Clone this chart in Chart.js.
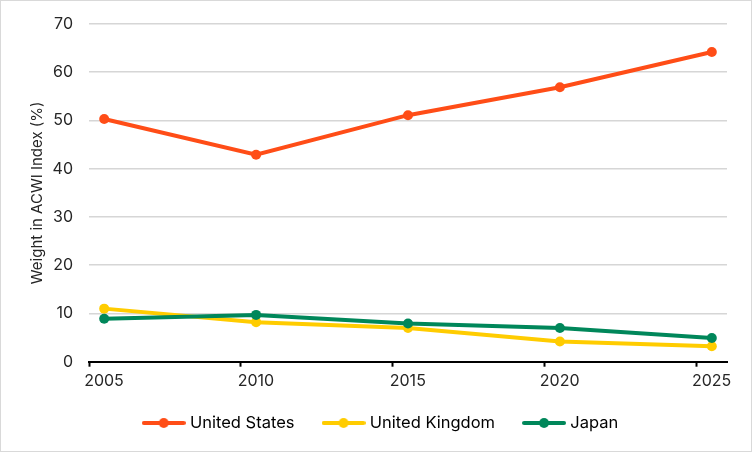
<!DOCTYPE html>
<html>
<head>
<meta charset="utf-8">
<script src="https://cdn.jsdelivr.net/npm/chart.js@4.4.1/dist/chart.umd.min.js"></script>
<style>
  html, body { margin: 0; padding: 0; background: #fff; }
  #wrap {
    width: 752px;
    height: 452px;
    box-sizing: border-box;
    border: 1px solid #d9d9d9;
    position: relative;
  }
</style>
</head>
<body>
<div id="wrap"><canvas id="weights"></canvas></div>
<script>
// years on the axis, data points are mid-year
const years = [2005, 2010, 2015, 2020, 2025];
const unitedStates = [50.3, 42.9, 51.1, 56.9, 64.2];
const unitedKingdom = [11.0, 8.2, 7.0, 4.2, 3.2];
const japan = [8.9, 9.7, 7.9, 7.0, 4.9];
const yTicks = [0, 10, 20, 30, 40, 50, 60, 70];

const FONT = 'Inter, "Noto Sans", sans-serif';
const TEXT = '#262626';

const toPoints = vals => vals.map((v, i) => ({ x: years[i] + 0.5, y: v }));

// legend marker: short thick line with a dot in the middle
function legendMarker(color) {
  const c = document.createElement('canvas');
  c.width = 44;
  c.height = 12;
  const g = c.getContext('2d');
  g.strokeStyle = color;
  g.lineWidth = 4;
  g.lineCap = 'round';
  g.beginPath();
  g.moveTo(2, 6);
  g.lineTo(42, 6);
  g.stroke();
  g.fillStyle = color;
  g.beginPath();
  g.arc(22, 6, 5, 0, Math.PI * 2);
  g.fill();
  return c;
}

// legend padding is wide for the item gaps, nudge the box back into place
const legendNudge = {
  id: 'legendNudge',
  beforeDraw(chart) {
    const lg = chart.legend;
    lg.left += 18; lg.right += 18;
    lg.top -= 7; lg.bottom -= 7;
  },
};

const series = [
  { label: 'United States', data: unitedStates, color: '#ff4d17', order: 2 },
  { label: 'United Kingdom', data: unitedKingdom, color: '#ffcc00', order: 1 },
  { label: 'Japan', data: japan, color: '#00875a', order: 0 },
];

new Chart(document.getElementById('weights'), {
  type: 'line',
  data: {
    datasets: series.map(s => ({
      label: s.label,
      data: toPoints(s.data),
      borderColor: s.color,
      backgroundColor: s.color,
      borderWidth: 4,
      pointRadius: 5,
      pointHoverRadius: 5,
      pointBorderWidth: 0,
      tension: 0,
      order: s.order,
    })),
  },
  plugins: [legendNudge],
  options: {
    responsive: true,
    maintainAspectRatio: false,
    animation: false,
    layout: { padding: { top: 23, right: 24, bottom: 2.8, left: 0 } },
    plugins: {
      tooltip: { enabled: false },
      legend: {
        position: 'bottom',
        labels: {
          usePointStyle: true,
          pointStyleWidth: 36,
          padding: 31,
          color: TEXT,
          font: { family: FONT, size: 16.5 },
          generateLabels: () => series.map((s, i) => ({
            text: s.label,
            pointStyle: legendMarker(s.color),
            fillStyle: s.color,
            strokeStyle: s.color,
            lineWidth: 0,
            hidden: false,
            datasetIndex: i,
          })),
        },
      },
    },
    scales: {
      x: {
        type: 'linear',
        min: 2005,
        max: 2026,
        afterBuildTicks: scale => { scale.ticks = years.map(v => ({ value: v })); },
        afterFit: scale => { scale.height = 29; },
        grid: {
          drawOnChartArea: false,
          drawTicks: true,
          tickLength: 5,
          tickWidth: 2,
          tickColor: '#000',
        },
        border: { display: true, color: '#000', width: 2 },
        ticks: {
          labelOffset: 15,
          padding: 5,
          maxRotation: 0,
          color: TEXT,
          font: { family: FONT, size: 16 },
          callback: v => String(v),
        },
      },
      y: {
        min: 0,
        max: 70,
        afterBuildTicks: scale => { scale.ticks = yTicks.map(v => ({ value: v })); },
        afterFit: scale => {
          scale.width = 88;
          // only half a label of room above the top tick
          scale.paddingTop = 10;
          scale.paddingBottom = 10;
        },
        grid: { color: '#d6d6d6', lineWidth: 1.5, drawTicks: false },
        border: { display: false },
        ticks: {
          padding: 16,
          color: TEXT,
          font: { family: FONT, size: 16 },
        },
        title: {
          display: true,
          text: 'Weight in ACWI Index (%)',
          color: TEXT,
          font: { family: FONT, size: 15 },
          padding: { top: 27, bottom: 0 },
        },
      },
    },
  },
});
</script>
</body>
</html>
